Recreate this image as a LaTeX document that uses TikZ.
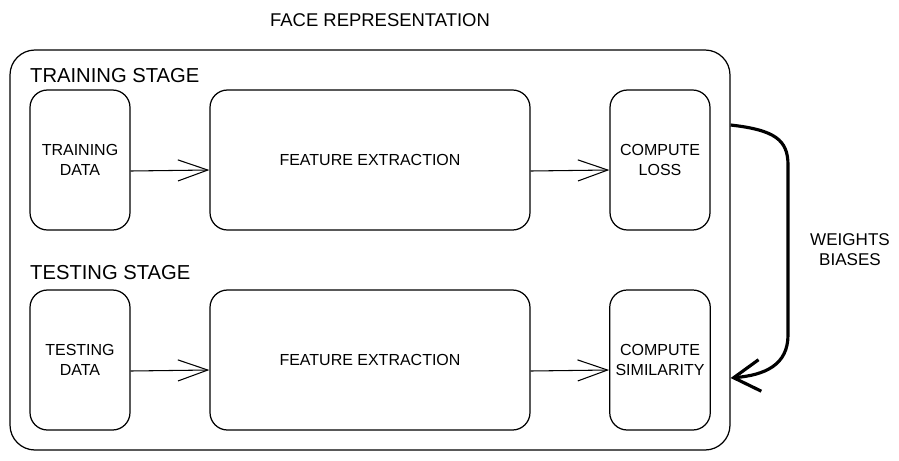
\documentclass[tikz,border=0pt]{standalone}
\usepackage{fontspec}
\setmainfont{Liberation Sans}
\usetikzlibrary{arrows.meta}

\begin{document}
\begin{tikzpicture}[
    box/.style={draw,line width=0.7pt,rounded corners=0.35cm,align=center,font=\fontsize{9.1}{11.2}\selectfont,minimum height=2.8cm},
    smallbox/.style={box,minimum width=2cm},
    bigbox/.style={box,minimum width=6.4cm},
    stagelabel/.style={anchor=west,font=\fontsize{11.5}{13}\selectfont},
    arr/.style={line width=0.6pt,-{Straight Barb[length=17pt,width=12pt,line width=0.6pt]}}
  ]
    \useasboundingbox (0,0) rectangle (17.98,-9.2);

    % outer frame and title
    \node[draw,line width=0.7pt,rounded corners=0.5cm,minimum width=14.4cm,minimum height=8cm] (frame) at (7.4,-5) {};
    \node[font=\fontsize{10.5}{12}\selectfont] (title) at (7.6,-0.4) {FACE REPRESENTATION};

    % training stage
    \node[stagelabel] (train) at (0.48,-1.52) {TRAINING STAGE};
    \node[smallbox] (trdata) at (1.6,-3.2) {TRAINING\\DATA};
    \node[bigbox] (trfeat) at (7.4,-3.2) {FEATURE EXTRACTION};
    \node[smallbox] (loss) at (13.2,-3.2) {COMPUTE\\LOSS};
    \draw[arr] ([yshift=-0.22cm]trdata.east) -- ([yshift=-0.2cm]trfeat.west);
    \draw[arr] ([yshift=-0.22cm]trfeat.east) -- ([yshift=-0.2cm]loss.west);

    % testing stage
    \node[stagelabel] (test) at (0.48,-5.46) {TESTING STAGE};
    \node[smallbox] (tedata) at (1.6,-7.2) {TESTING\\DATA};
    \node[bigbox] (tefeat) at (7.4,-7.2) {FEATURE EXTRACTION};
    \node[smallbox] (sim) at (13.2,-7.2) {COMPUTE\\SIMILARITY};
    \draw[arr] ([yshift=-0.22cm]tedata.east) -- ([yshift=-0.2cm]tefeat.west);
    \draw[arr] ([yshift=-0.22cm]tefeat.east) -- ([yshift=-0.2cm]sim.west);

    % weights passed from training to testing
    \coordinate (wfrom) at (frame.east |- 0,-2.5);
    \coordinate (wto) at (frame.east |- 0,-7.56);
    \draw[line width=1.8pt,-{Straight Barb[length=15pt,width=18pt,line width=1.8pt]}]
        (wfrom) .. controls (15.5,-2.6) and (15.76,-2.8) .. (15.76,-3.3)
        -- (15.76,-6.7) .. controls (15.76,-7.3) and (15.3,-7.5) .. (wto);
    \node[align=center,font=\fontsize{9.7}{11.4}\selectfont] (wb) at (17.0,-5.0) {WEIGHTS\\BIASES};
\end{tikzpicture}
\end{document}
